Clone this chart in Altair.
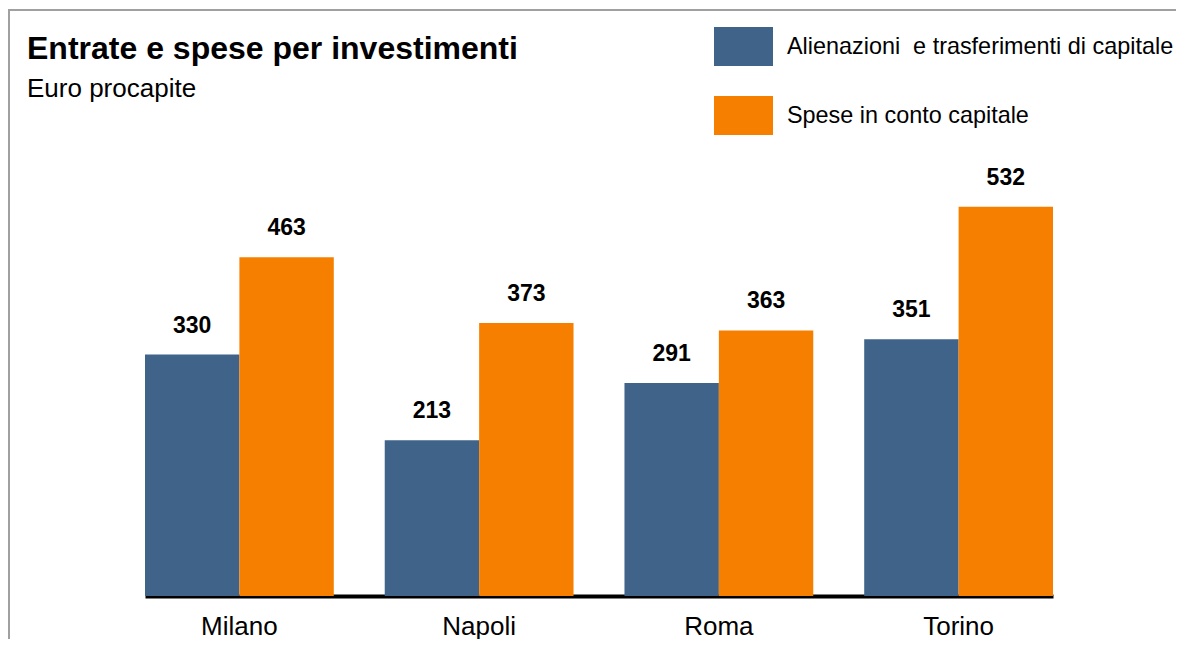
import altair as alt
import pandas as pd

cities = ["Milano", "Napoli", "Roma", "Torino"]
series = ["Alienazioni\u00a0 e trasferimenti di capitale", "Spese in conto capitale"]
alienazioni = [330, 213, 291, 351]
spese = [463, 373, 363, 532]
colors = ["#406389", "#F77F00"]
title_text = "Entrate e spese per investimenti"
subtitle_text = "Euro procapite"

rows = []
for c, a, s in zip(cities, alienazioni, spese):
    rows.append({"city": c, "serie": series[0], "value": a})
    rows.append({"city": c, "serie": series[1], "value": s})
df = pd.DataFrame(rows)

FONT = "Liberation Sans"

x = alt.X(
    "city:N",
    sort=cities,
    scale=alt.Scale(paddingInner=0.2125, paddingOuter=0),
    axis=alt.Axis(
        title=None, labelAngle=0, ticks=False, domainColor="black", domainWidth=4,
        labelFontSize=26, labelColor="black", labelPadding=17, labelFont=FONT, grid=False,
    ),
)
xoff = alt.XOffset("serie:N", sort=series, scale=alt.Scale(paddingInner=0, paddingOuter=0))
y = alt.Y("value:Q", scale=alt.Scale(domain=[0, 600], nice=False), axis=None)
color = alt.Color(
    "serie:N",
    sort=series,
    scale=alt.Scale(domain=series, range=colors),
    legend=alt.Legend(
        title=None, orient="none", legendX=569, legendY=-140, direction="vertical",
        symbolType="M-1,-0.66H1V0.66H-1Z", symbolSize=3481, symbolStrokeWidth=0,
        symbolOpacity=1, labelFontSize=23.4, labelFont=FONT, labelColor="black",
        labelOffset=14, rowPadding=20, padding=0, labelLimit=800,
    ),
)

base = alt.Chart(df)
bars = base.mark_bar().encode(x=x, xOffset=xoff, y=y, color=color)
labels = base.mark_text(
    dy=-22, baseline="alphabetic", fontWeight="bold", fontSize=23, font=FONT, color="black"
).encode(x=x, xOffset=xoff, y=y, text=alt.Text("value:Q"))

frame_top = alt.Chart(pd.DataFrame({"f": [0]})).mark_rule(
    stroke="#a0a0a0", strokeWidth=2
).encode(x=alt.value(-136), x2=alt.value(1300), y=alt.value(-147))
frame_left = alt.Chart(pd.DataFrame({"f": [0]})).mark_rule(
    stroke="#a0a0a0", strokeWidth=2
).encode(x=alt.value(-136), y=alt.value(-148), y2=alt.value(800))

title = alt.Chart(pd.DataFrame({"t": [title_text]})).mark_text(
    align="left", baseline="alphabetic", fontSize=32, fontWeight="bold", font=FONT, color="black"
).encode(x=alt.value(-118), y=alt.value(-98), text="t:N")

subtitle = alt.Chart(pd.DataFrame({"t": [subtitle_text]})).mark_text(
    align="left", baseline="alphabetic", fontSize=26, font=FONT, color="black"
).encode(x=alt.value(-118), y=alt.value(-60), text="t:N")

chart = alt.layer(frame_top, frame_left, bars, labels, title, subtitle).properties(
    width=908,
    height=439,
    autosize=alt.AutoSizeParams(type="none"),
    padding={"left": 137, "top": 149, "right": 123, "bottom": 43},
).configure(font=FONT, view=alt.ViewConfig(strokeWidth=0))

chart.save("out.html", embed_options={"renderer": "svg", "actions": False})
